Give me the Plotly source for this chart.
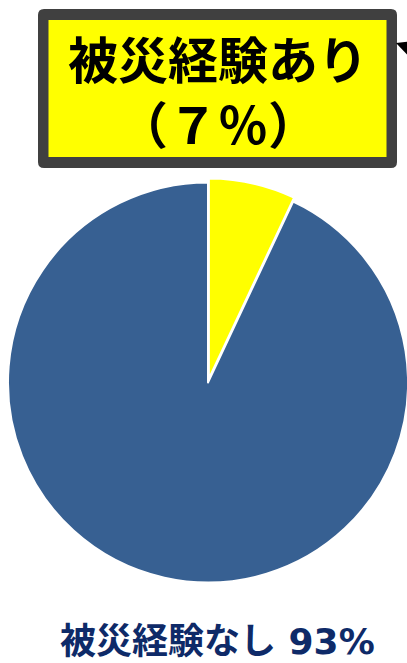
import plotly.graph_objects as go

# Survey result: share of respondents who have experienced a disaster
labels = ["被災経験あり", "被災経験なし"]
values = [7, 93]
colors = ["#FFFF00", "#376092"]

W, H = 420, 663

FULLWIDTH = str.maketrans("0123456789", "０１２３４５６７８９")

fig = go.Figure()

# Pie: yellow slice first, starting at 12 o'clock, slightly pulled out
pie_top, pie_bottom = 178.5, 586.5
fig.add_trace(go.Pie(
    labels=labels,
    values=values,
    sort=False,
    direction="clockwise",
    rotation=0,
    pull=[0.02, 0],
    marker=dict(colors=colors, line=dict(color="white", width=2)),
    textinfo="none",
    hoverinfo="label+percent",
    showlegend=False,
    domain=dict(x=[0, 416 / W], y=[(H - pie_bottom) / H, (H - pie_top) / H]),
))

# Pixel-space helper axes for the callout box
fig.update_xaxes(range=[0, W], visible=False, fixedrange=True)
fig.update_yaxes(range=[H, 0], visible=False, fixedrange=True)


def rounded_rect(x0, y0, x1, y1, r):
    return (f"M {x0 + r},{y0} L {x1 - r},{y0} Q {x1},{y0} {x1},{y0 + r} "
            f"L {x1},{y1 - r} Q {x1},{y1} {x1 - r},{y1} "
            f"L {x0 + r},{y1} Q {x0},{y1} {x0},{y1 - r} "
            f"L {x0},{y0 + r} Q {x0},{y0} {x0 + r},{y0} Z")


fig.add_shape(type="path", xref="x", yref="y",
              path=rounded_rect(38, 9, 397, 168, 6),
              fillcolor="#404040", line=dict(width=0), layer="above")
fig.add_shape(type="rect", xref="x", yref="y",
              x0=48.5, y0=20, x1=386.5, y1=157,
              fillcolor="#FFFF00", line=dict(width=0), layer="above")

# Callout label for the "experienced" share
fig.add_annotation(
    xref="x", yref="y", x=217.5, y=89,
    text=f"<b>{labels[0]}<br>（{str(values[0]).translate(FULLWIDTH)}％）</b>",
    showarrow=False, xanchor="center", yanchor="middle",
    font=dict(family="Noto Sans CJK JP", size=50, color="#000000"),
)

# Connector arrowhead entering from the right edge
fig.add_annotation(
    xref="x", yref="y", axref="x", ayref="y",
    x=396, y=43, ax=432, ay=56, text="",
    showarrow=True, arrowhead=2, arrowsize=1.2, arrowwidth=2.5,
    arrowcolor="#000000",
)

# Label for the remaining share, sitting on the bottom edge
fig.add_annotation(
    xref="x", yref="y", x=217, y=H,
    text=f"<b>{labels[1]} {values[1]}%</b>",
    showarrow=False, xanchor="center", yanchor="bottom",
    borderpad=0,
    font=dict(family="DejaVu Sans, Noto Sans CJK JP", size=36, color="#0E2A68"),
)

fig.update_layout(
    width=W, height=H,
    margin=dict(l=0, r=0, t=0, b=0),
    paper_bgcolor="white", plot_bgcolor="white",
)

fig.write_html(
    "out.html",
    config={"displayModeBar": False},
    post_script="document.documentElement.style.overflow='hidden';"
                "document.body.style.overflow='hidden';",
)
